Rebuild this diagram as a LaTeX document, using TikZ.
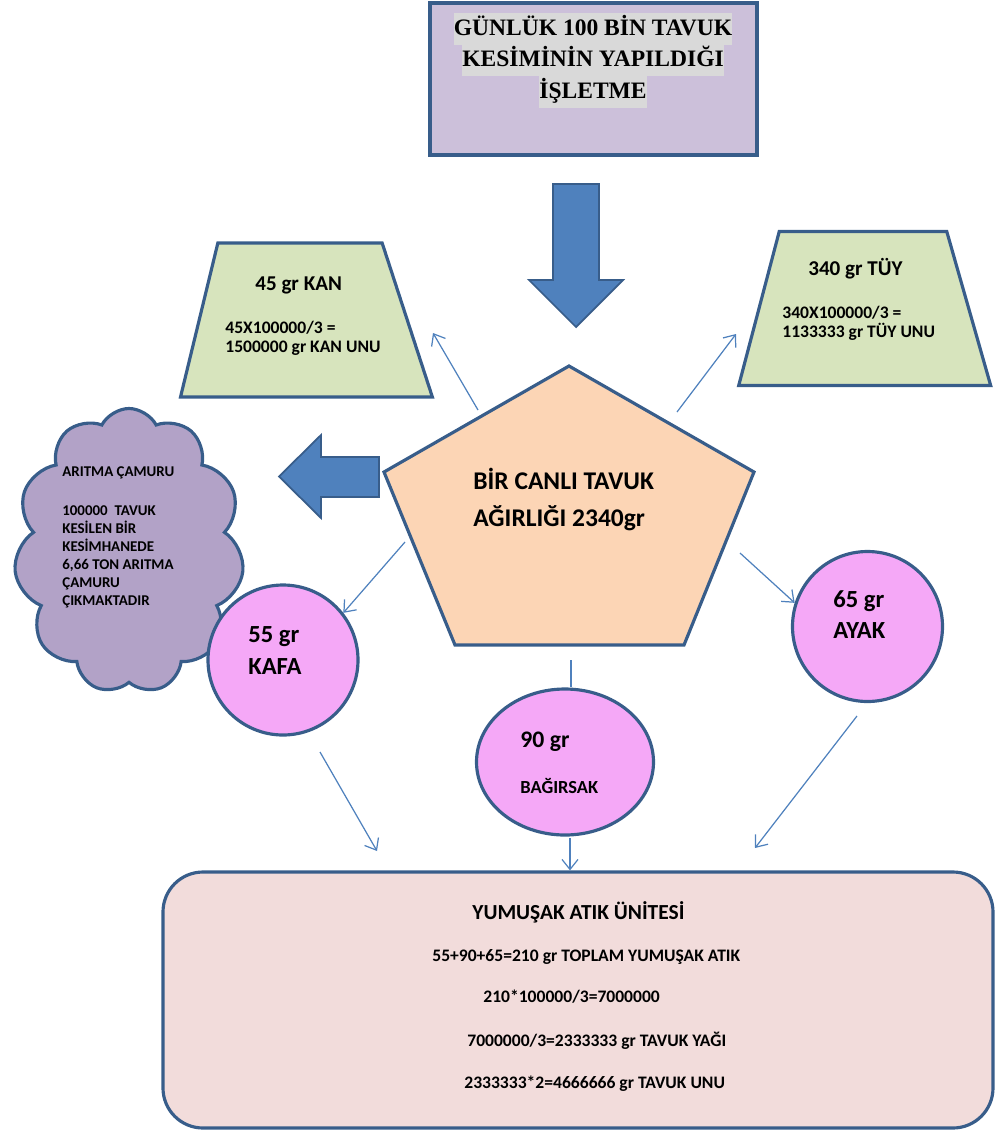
\documentclass[tikz,border=0pt]{standalone}
\usepackage{fontspec}
\setmainfont{Carlito}
\newfontfamily\timesfont{Liberation Serif}
\usetikzlibrary{shapes.geometric,shapes.symbols,arrows.meta,positioning}

\definecolor{kenar}{RGB}{56,93,138}
\definecolor{mavi}{RGB}{79,129,189}
\definecolor{lila}{RGB}{204,192,218}
\definecolor{vurgu}{RGB}{217,217,217}
\definecolor{yesil}{RGB}{215,228,189}
\definecolor{seftali}{RGB}{252,213,181}
\definecolor{pembe}{RGB}{245,168,247}
\definecolor{mor}{RGB}{178,162,199}
\definecolor{gulkurusu}{RGB}{242,220,219}

\setlength{\fboxsep}{0pt}
\newcommand{\punto}[2]{\fontsize{#1}{#2}\selectfont}
\newcommand{\vurgula}[1]{\colorbox{vurgu}{\strut #1}}

\begin{document}
\begin{tikzpicture}[x=0.2mm,y=-0.2mm,
    kutu/.style={draw=kenar,line width=1.8pt},
    yamuk/.style={kutu,trapezium,trapezium stretches=true,fill=yesil,
      minimum width=50.4mm,minimum height=30.8mm},
    daire/.style={kutu,circle,fill=pembe,minimum size=30mm,inner sep=0pt},
    blok/.style={draw=kenar,line width=1pt,fill=mavi},
    ince/.style={draw=mavi,line width=0.7pt,-{Straight Barb[length=2mm,width=3.2mm]}},
    yazi/.style={inner sep=0pt,anchor=base west}]
  \useasboundingbox (0,0) rectangle (995,1131);

  % ust kutu
  \node[kutu,fill=lila,minimum width=65.4mm,minimum height=30.4mm] (isletme) at (593.5,79) {};
  \node[inner sep=0pt,anchor=north,align=center,font=\timesfont\bfseries\punto{13.4}{17.9}] (isletmeyazi) at (593,13)
    {\vurgula{GÜNLÜK 100 BİN TAVUK}\\\vurgula{KESİMİNİN YAPILDIĞI}\\\vurgula{İŞLETME}};

  % blok oklar
  \filldraw[blok] (553,184) -- (599,184) -- (599,280) -- (623,280) -- (576,327) -- (529,280) -- (553,280) -- cycle;
  \filldraw[blok] (379,457) -- (379,497) -- (321,497) -- (321,518) -- (279,476.5) -- (321,435) -- (321,457) -- cycle;

  % besgen
  \draw[kutu,fill=seftali] (569,366) -- (754,472) -- (684,645) -- (455,645) -- (384,472) -- cycle;
  \node[yazi,align=left,font=\bfseries\punto{14.5}{21}] (agirlik) at (473,526) {BİR CANLI TAVUK\\AĞIRLIĞI 2340gr};

  % yamuklar
  \node[yamuk,trapezium left angle=77.2,trapezium right angle=73] (kan) at (300,320) {};
  \node[yazi,font=\bfseries\punto{12}{14}] (kanbaslik) at (255,290) {45 gr KAN};
  \node[yazi,align=left,font=\bfseries\punto{10}{10.8}] (kanhesap) at (225,352) {45X100000/3 =\\1500000 gr KAN UNU};

  \node[yamuk,trapezium left angle=76.4,trapezium right angle=75.3] (tuy) at (863,308.5) {};
  \node[yazi,font=\bfseries\punto{12}{14}] (tuybaslik) at (808,275) {340 gr TÜY};
  \node[yazi,align=left,font=\bfseries\punto{10}{10.8}] (tuyhesap) at (782,337) {340X100000/3 =\\1133333 gr TÜY UNU};

  % bulut
  \node[kutu,cloud,cloud puffs=11,cloud puff arc=125,aspect=0.82,fill=mor,
    minimum width=46mm,minimum height=57mm] (camur) at (129,551) {};
  \node[yazi,align=left,font=\bfseries\punto{8.5}{10.2}] (camuryazi) at (62,605)
    {ARITMA ÇAMURU\\[4.2mm]100000~~TAVUK\\KESİLEN BİR\\KESİMHANEDE\\6,66 TON ARITMA\\ÇAMURU\\ÇIKMAKTADIR};

  % daireler
  \node[daire] (kafa) at (283,660) {};
  \node[yazi,align=left,font=\bfseries\punto{14}{18}] (kafayazi) at (248,674) {55 gr\\KAFA};
  \node[daire] (ayak) at (867.5,626.5) {};
  \node[yazi,align=left,font=\bfseries\punto{14}{17.5}] (ayakyazi) at (833,638) {65 gr\\AYAK};
  \node[daire,ellipse,minimum width=35.4mm,minimum height=29.2mm] (bag) at (565,762) {};
  \node[yazi,font=\bfseries\punto{13.5}{16}] (bag90) at (520,747) {90 gr};
  \node[yazi,font=\bfseries\punto{10.5}{12}] (bagad) at (520,793) {BAĞIRSAK};

  % alt kutu
  \node[kutu,fill=gulkurusu,rounded corners=8mm,minimum width=166mm,minimum height=51.2mm] (yumusak) at (578,1000) {};
  \node[yazi,font=\bfseries\punto{12.2}{14}] (yumbaslik) at (472,919) {YUMUŞAK ATIK ÜNİTESİ};
  \node[yazi,font=\bfseries\punto{10}{12}] (yum1) at (432,961) {55+90+65=210 gr TOPLAM YUMUŞAK ATIK};
  \node[yazi,font=\bfseries\punto{10}{12}] (yum2) at (483,1002) {210*100000/3=7000000};
  \node[yazi,font=\bfseries\punto{10}{12}] (yum3) at (467,1046) {7000000/3=2333333 gr TAVUK YAĞI};
  \node[yazi,font=\bfseries\punto{10}{12}] (yum4) at (464,1088) {2333333*2=4666666 gr TAVUK UNU};

  % ince oklar
  \coordinate (kanbas) at (478,410);
  \coordinate (kanuc) at (433,333);
  \coordinate (tuybas) at (677,412);
  \coordinate (tuyuc) at (736,334);
  \coordinate (kafabas) at (405,542);
  \coordinate (ayakbas) at (740,553);
  \coordinate (bagbas) at (571,660);
  \coordinate (bagalt) at (570,838);
  \coordinate (kafaalt) at (320,752);
  \coordinate (kafauc) at (377,851);
  \coordinate (ayakalt) at (857,716);
  \coordinate (ayakuc) at (755,848);

  \draw[ince] (kanbas) -- (kanuc);
  \draw[ince] (tuybas) -- (tuyuc);
  \draw[ince] (kafabas) -- (kafa.38);
  \draw[ince] (ayakbas) -- (ayak.162);
  \draw[draw=mavi,line width=0.7pt] (bagbas) -- (bagbas |- bag.north);
  \draw[ince] (kafaalt) -- (kafauc);
  \draw[ince] (bagalt) -- (bagalt |- yumusak.north);
  \draw[ince] (ayakalt) -- (ayakuc);
\end{tikzpicture}
\end{document}
